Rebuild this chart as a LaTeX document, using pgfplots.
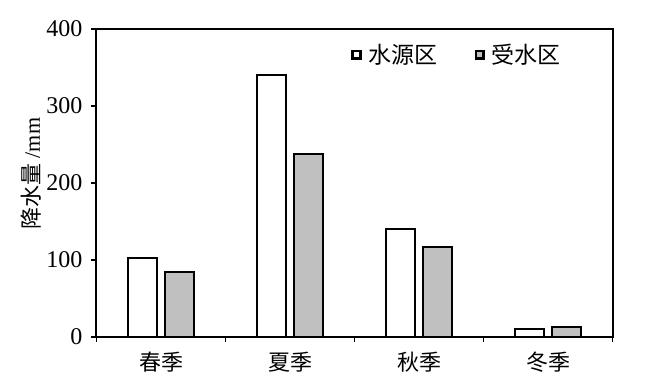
\documentclass[border=0pt]{standalone}
\usepackage{pgfplots}
\pgfplotsset{compat=1.18}
\usepackage{fontspec}
\setmainfont{Liberation Serif}
\newfontfamily\cjk{Noto Sans CJK SC}
\definecolor{silverbar}{HTML}{C0C0C0}
\begin{document}
\begin{tikzpicture}
\useasboundingbox (-48.25pt,-23.5pt) rectangle (281.75pt,168.5pt);
\begin{axis}[
  scale only axis,
  width=258.1pt, height=154pt,
  at={(0pt,0pt)}, anchor=south west,
  ybar, bar width=14.5pt,
  ymin=0, ymax=400, ytick={0,100,200,300,400},
  xmin=-0.5, xmax=3.5,
  xtick={0,1,2,3},
  xticklabels={{\cjk 春季},{\cjk 夏季},{\cjk 秋季},{\cjk 冬季}},
  minor xtick={-0.5,0.5,1.5,2.5,3.5},
  major x tick style={draw=none},
  minor tick length=2.5pt,
  major tick length=2.5pt,
  tick align=outside,
  xtick pos=bottom, ytick pos=left,
  axis line style={line width=1pt},
  tick style={line width=0.8pt, black},
  yticklabel style={font=\fontsize{12pt}{13pt}\selectfont, xshift=-1pt},
  xticklabel style={font=\fontsize{11pt}{12pt}\selectfont, yshift=-1.5pt},
  /pgf/number format/assume math mode=true,
  ylabel={{\cjk 降水量} /mm},
  ylabel style={font=\fontsize{11pt}{12pt}\selectfont, at={(ticklabel cs:0.53)}, yshift=-4.5pt},
  legend columns=2,
  legend style={draw=none, fill=none, at={(rel axis cs:0.493,0.916)}, anchor=west,
    font=\fontsize{11.5pt}{12pt}\selectfont\cjk,
    /tikz/every even column/.append style={column sep=15pt},
    inner sep=0pt, nodes={inner xsep=3.5pt}},
  legend image code/.code={\draw[#1, line width=1.3pt] (0.6pt,-1.9pt) rectangle (4.4pt,1.9pt);},
  enlarge x limits=false,
]
\addplot[draw=black, line width=1pt, fill=white, bar shift=-9.15pt] coordinates {(0,102) (1,340) (2,140) (3,11)};
\addplot[draw=black, line width=1pt, fill=silverbar, bar shift=9.15pt] coordinates {(0,84) (1,238) (2,117) (3,13.5)};
\legend{水源区,受水区}
\end{axis}
\end{tikzpicture}
\end{document}
